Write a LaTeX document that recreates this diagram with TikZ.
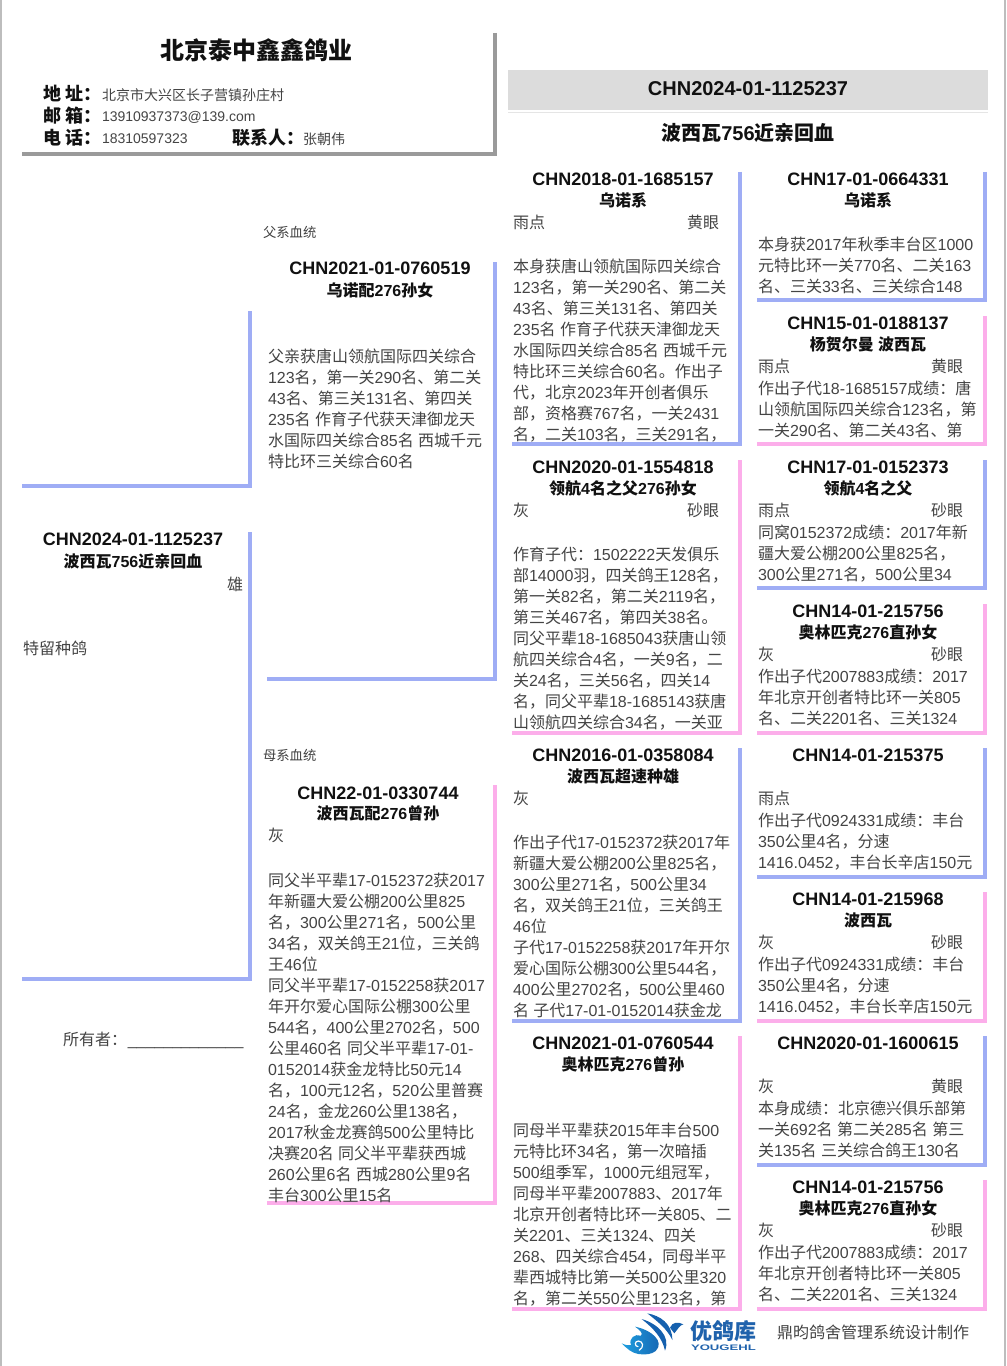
\documentclass[tikz,border=0pt]{standalone}
\usepackage{fontspec}
\setmainfont{Liberation Sans}
\newfontfamily\cjkr{Noto Sans CJK SC}
\newXeTeXintercharclass\cjkcls
\makeatletter
\count@="3000
\loop\ifnum\count@<"A000 \XeTeXcharclass\count@=\cjkcls \advance\count@ by 1 \repeat
\count@="FF00
\loop\ifnum\count@<"FFF0 \XeTeXcharclass\count@=\cjkcls \advance\count@ by 1 \repeat
\makeatother
\XeTeXinterchartoks 0 \cjkcls = {\cjkr}
\XeTeXinterchartoks 4095 \cjkcls = {\cjkr}
\XeTeXinterchartoks \cjkcls 0 = {\rmfamily}
\XeTeXinterchartoks \cjkcls 4095 = {\rmfamily}
\XeTeXinterchartokenstate=1
\definecolor{bluebar}{HTML}{9FADF5}
\definecolor{pinkbar}{HTML}{FCAEEA}
\definecolor{greybar}{HTML}{9A9A9A}
\definecolor{edgegrey}{HTML}{BDBDBD}
\definecolor{headgrey}{HTML}{DCDCDC}
\definecolor{bodytxt}{HTML}{444444}
\definecolor{darktxt}{HTML}{111111}
\definecolor{logodark}{HTML}{1560AE}
\definecolor{logolight}{HTML}{1F9FE0}
\definecolor{logotxt}{HTML}{1F62AC}
\tikzset{
  txt/.style={inner sep=0pt,outer sep=0pt},
  ttl/.style={txt,text=darktxt,font=\fontsize{13.5}{16}\selectfont\bfseries},
  nm/.style={txt,text=darktxt,font=\fontsize{12}{16}\selectfont\bfseries},
  bd/.style={txt,text=bodytxt,align=left,font=\fontsize{12}{15.75}\selectfont},
  small/.style={txt,text=bodytxt,font=\fontsize{10.5}{14}\selectfont},
  tiny/.style={txt,text=black!75,font=\fontsize{10}{13}\selectfont},
  lab/.style={txt,text=darktxt,font=\fontsize{13.5}{16}\selectfont\bfseries},
  bigt/.style={txt,text=darktxt,font=\fontsize{15}{18}\selectfont\bfseries},
  bar/.style={line width=2.7pt,line cap=butt,line join=miter},
  bluel/.style={bar,draw=bluebar},
  pinkl/.style={bar,draw=pinkbar},
  greyl/.style={bar,draw=greybar,line width=3pt},
}
\newcommand\st{\rule{0pt}{12pt}}
\newcommand\ped[7]{%
  \node[ttl,anchor=base] (#1t) at (\cx,#2+13.5) {#3};
  \if\relax\detokenize{#4}\relax\else\node[nm,anchor=base] (#1n) at (\cx,#2+34) {#4};\fi
  \if\relax\detokenize{#5}\relax\else\node[bd,anchor=base west] (#1l) at (\lx,#2+56) {#5};\fi
  \if\relax\detokenize{#6}\relax\else\node[bd,anchor=base east] (#1r) at (\rx,#2+56) {#6};\fi
  \node[bd,anchor=north west] (#1b) at (\lx,#2+\bo) {\st #7};
}
\begin{document}
\begin{tikzpicture}[x=0.75pt,y=-0.75pt]
\useasboundingbox (0,0) rectangle (1006,1366);
\fill[white] (0,0) rectangle (1006,1366);
% page edges
\draw[edgegrey,line width=1.2pt] (0.8,0) -- (0.8,1366);
\draw[edgegrey,line width=1.2pt] (1005,0) -- (1005,1366);
% header block
\draw[greyl] (495,33) -- (495,154) -- (22,154);
\node[txt,text=darktxt,font=\fontsize{18}{22}\selectfont\bfseries,anchor=base] (farm) at (256,59.5) {北京泰中鑫鑫鸽业};
\node[lab,anchor=base west] (l1) at (43,101) {地 址：};
\node[lab,anchor=base west] (l2) at (43,123) {邮 箱：};
\node[lab,anchor=base west] (l3) at (43,145) {电 话：};
\node[small,anchor=base west] (v1) at (102,100.5) {北京市大兴区长子营镇孙庄村};
\node[small,anchor=base west] (v2) at (102,122) {13910937373@139.com};
\node[small,anchor=base west] (v3) at (102,144) {18310597323};
\node[lab,anchor=base west] (l4) at (232,145) {联系人：};
\node[small,anchor=base west] (v4) at (303,144.5) {张朝伟};
% right head
\fill[headgrey] (508,70) rectangle (988,110);
\draw[black!10,line width=1pt] (508,112.5) -- (988,112.5);
\node[bigt,anchor=base] (ring) at (748,96) {CHN2024-01-1125237};
\node[bigt,anchor=base] (rname) at (748,141) {波西瓦756近亲回血};
% subject
\draw[bluel] (250,311) -- (250,486) -- (22,486);
\draw[bluel] (250,532) -- (250,979) -- (22,979);
\node[ttl,anchor=base] (st) at (133,545.5) {CHN2024-01-1125237};
\node[nm,anchor=base] (sn) at (133,567) {波西瓦756近亲回血};
\node[bd,anchor=base east] (ss) at (243,590) {雄};
\node[bd,anchor=base west] (sk) at (23,654) {特留种鸽};
\node[bd,anchor=base west] (own) at (63,1045) {所有者：\hspace{0.6pt}\_\_\_\_\_\_\_\_\_\_\_\_\_};
% sire
\node[tiny,anchor=base west] (fx) at (263,237) {父系血统};
\draw[bluel] (495,262) -- (495,679) -- (267,679);
\node[ttl,anchor=base] (siret) at (380,274.5) {CHN2021-01-0760519};
\node[nm,anchor=base] (siren) at (380,296) {乌诺配276孙女};
\node[bd,anchor=north west] (sireb) at (268,346) {\st 父亲获唐山领航国际四关综合\\123名，第一关290名、第二关\\43名、第三关131名、第四关\\235名 作育子代获天津御龙天\\水国际四关综合85名 西城千元\\特比环三关综合60名};
% dam
\node[tiny,anchor=base west] (mx) at (263,760) {母系血统};
\draw[pinkl] (495,785) -- (495,1203) -- (267,1203);
\def\cx{378}\def\lx{268}\def\rx{484}\def\bo{84.5}
\ped{dam}{785.5}{CHN22-01-0330744}{波西瓦配276曾孙}{灰}{}{同父半平辈17-0152372获2017\\年新疆大爱公棚200公里825\\名，300公里271名，500公里\\34名，双关鸽王21位，三关鸽\\王46位\\同父半平辈17-0152258获2017\\年开尔爱心国际公棚300公里\\544名，400公里2702名，500\\公里460名 同父半平辈17-01-\\0152014获金龙特比50元14\\名，100元12名，520公里普赛\\24名，金龙260公里138名，\\2017秋金龙赛鸽500公里特比\\决赛20名 同父半平辈获西城\\260公里6名 西城280公里9名\\丰台300公里15名};
% third column
\def\cx{623}\def\lx{513}\def\rx{719}\def\bo{84.5}
\draw[bluel] (740,172) -- (740,444) -- (512,444);
\ped{a}{172}{CHN2018-01-1685157}{乌诺系}{雨点}{黄眼}{本身获唐山领航国际四关综合\\123名，第一关290名、第二关\\43名、第三关131名、第四关\\235名 作育子代获天津御龙天\\水国际四关综合85名 西城千元\\特比环三关综合60名。作出子\\代，北京2023年开创者俱乐\\部，资格赛767名，一关2431\\名，二关103名，三关291名，};
\draw[pinkl] (740,460) -- (740,733) -- (512,733);
\ped{b}{460}{CHN2020-01-1554818}{领航4名之父276孙女}{灰}{砂眼}{作育子代：1502222天发俱乐\\部14000羽，四关鸽王128名，\\第一关82名，第二关2119名，\\第三关467名，第四关38名。\\同父平辈18-1685043获唐山领\\航四关综合4名，一关9名，二\\关24名，三关56名，四关14\\名，同父平辈18-1685143获唐\\山领航四关综合34名，一关亚};
\draw[bluel] (740,748) -- (740,1021) -- (512,1021);
\ped{c}{748}{CHN2016-01-0358084}{波西瓦超速种雄}{灰}{}{作出子代17-0152372获2017年\\新疆大爱公棚200公里825名，\\300公里271名，500公里34\\名，双关鸽王21位，三关鸽王\\46位\\子代17-0152258获2017年开尔\\爱心国际公棚300公里544名，\\400公里2702名，500公里460\\名 子代17-01-0152014获金龙};
\draw[pinkl] (740,1036) -- (740,1309) -- (512,1309);
\ped{d}{1036}{CHN2021-01-0760544}{奥林匹克276曾孙}{}{}{同母半平辈获2015年丰台500\\元特比环34名，第一次暗插\\500组季军，1000元组冠军，\\同母半平辈2007883、2017年\\北京开创者特比环一关805、二\\关2201、三关1324、四关\\268、四关综合454，同母半平\\辈西城特比第一关500公里320\\名，第二关550公里123名，第};
% fourth column
\def\cx{868}\def\lx{758}\def\rx{963}\def\bo{62}
\draw[bluel] (985,172) -- (985,300) -- (757,300);
\ped{e}{172}{CHN17-01-0664331}{乌诺系}{}{}{本身获2017年秋季丰台区1000\\元特比环一关770名、二关163\\名、三关33名、三关综合148};
\draw[pinkl] (985,316) -- (985,444) -- (757,444);
\ped{f}{316}{CHN15-01-0188137}{杨贺尔曼 波西瓦}{雨点}{黄眼}{作出子代18-1685157成绩：唐\\山领航国际四关综合123名，第\\一关290名、第二关43名、第};
\draw[bluel] (985,460) -- (985,588) -- (757,588);
\ped{g}{460}{CHN17-01-0152373}{领航4名之父}{雨点}{砂眼}{同窝0152372成绩：2017年新\\疆大爱公棚200公里825名，\\300公里271名，500公里34};
\draw[pinkl] (985,604) -- (985,733) -- (757,733);
\ped{h}{604}{CHN14-01-215756}{奥林匹克276直孙女}{灰}{砂眼}{作出子代2007883成绩：2017\\年北京开创者特比环一关805\\名、二关2201名、三关1324};
\draw[bluel] (985,748) -- (985,877) -- (757,877);
\ped{i}{748}{CHN14-01-215375}{}{雨点}{}{作出子代0924331成绩：丰台\\350公里4名，分速\\1416.0452，丰台长辛店150元};
\draw[pinkl] (985,892) -- (985,1021) -- (757,1021);
\ped{j}{892}{CHN14-01-215968}{波西瓦}{灰}{砂眼}{作出子代0924331成绩：丰台\\350公里4名，分速\\1416.0452，丰台长辛店150元};
\draw[bluel] (985,1036) -- (985,1165) -- (757,1165);
\ped{k}{1036}{CHN2020-01-1600615}{}{灰}{黄眼}{本身成绩：北京德兴俱乐部第\\一关692名 第二关285名 第三\\关135名 三关综合鸽王130名};
\draw[pinkl] (985,1180) -- (985,1309) -- (757,1309);
\ped{m}{1180}{CHN14-01-215756}{奥林匹克276直孙女}{灰}{砂眼}{作出子代2007883成绩：2017\\年北京开创者特比环一关805\\名、二关2201名、三关1324};
% logo
\begin{scope}[shift={(615,1305)},x=0.25pt,y=-0.25pt]
  \fill[logodark] (97,25) .. controls (135,32) and (172,55) .. (172,105) .. controls (157,72) and (125,47) .. (97,25) -- cycle;
  \fill[logodark] (80,42) .. controls (125,55) and (168,92) .. (150,137) .. controls (142,98) and (115,70) .. (80,42) -- cycle;
  \shade[left color=logolight,right color=logodark] (60,65) .. controls (110,75) and (150,110) .. (122,138) .. controls (110,148) and (90,150) .. (70,147) .. controls (50,144) and (35,130) .. (20,115) .. controls (30,120) and (40,122) .. (48,120) .. controls (40,100) and (60,85) .. (78,92) .. controls (85,85) and (75,75) .. (60,65) -- cycle;
  \draw[white,line width=0.9pt] (70,125) .. controls (58,125) and (58,108) .. (70,108) .. controls (85,108) and (88,128) .. (72,136);
  \fill[logodark] (165,68) .. controls (172,50) and (190,50) .. (205,58) .. controls (195,60) and (190,70) .. (178,85) -- cycle;
\end{scope}
\node[txt,text=logotxt,font=\fontsize{16.5}{18}\selectfont\bfseries,anchor=base west] (lg) at (690,1339) {优鸽库};
\node[txt,text=logotxt,font=\fontsize{6}{7}\selectfont\bfseries,xscale=1.64,anchor=base west] (lgy) at (691,1350) {YOUGEHL};
\node[bd,anchor=base west] (made) at (777,1338) {鼎昀鸽舍管理系统设计制作};
\end{tikzpicture}
\end{document}
